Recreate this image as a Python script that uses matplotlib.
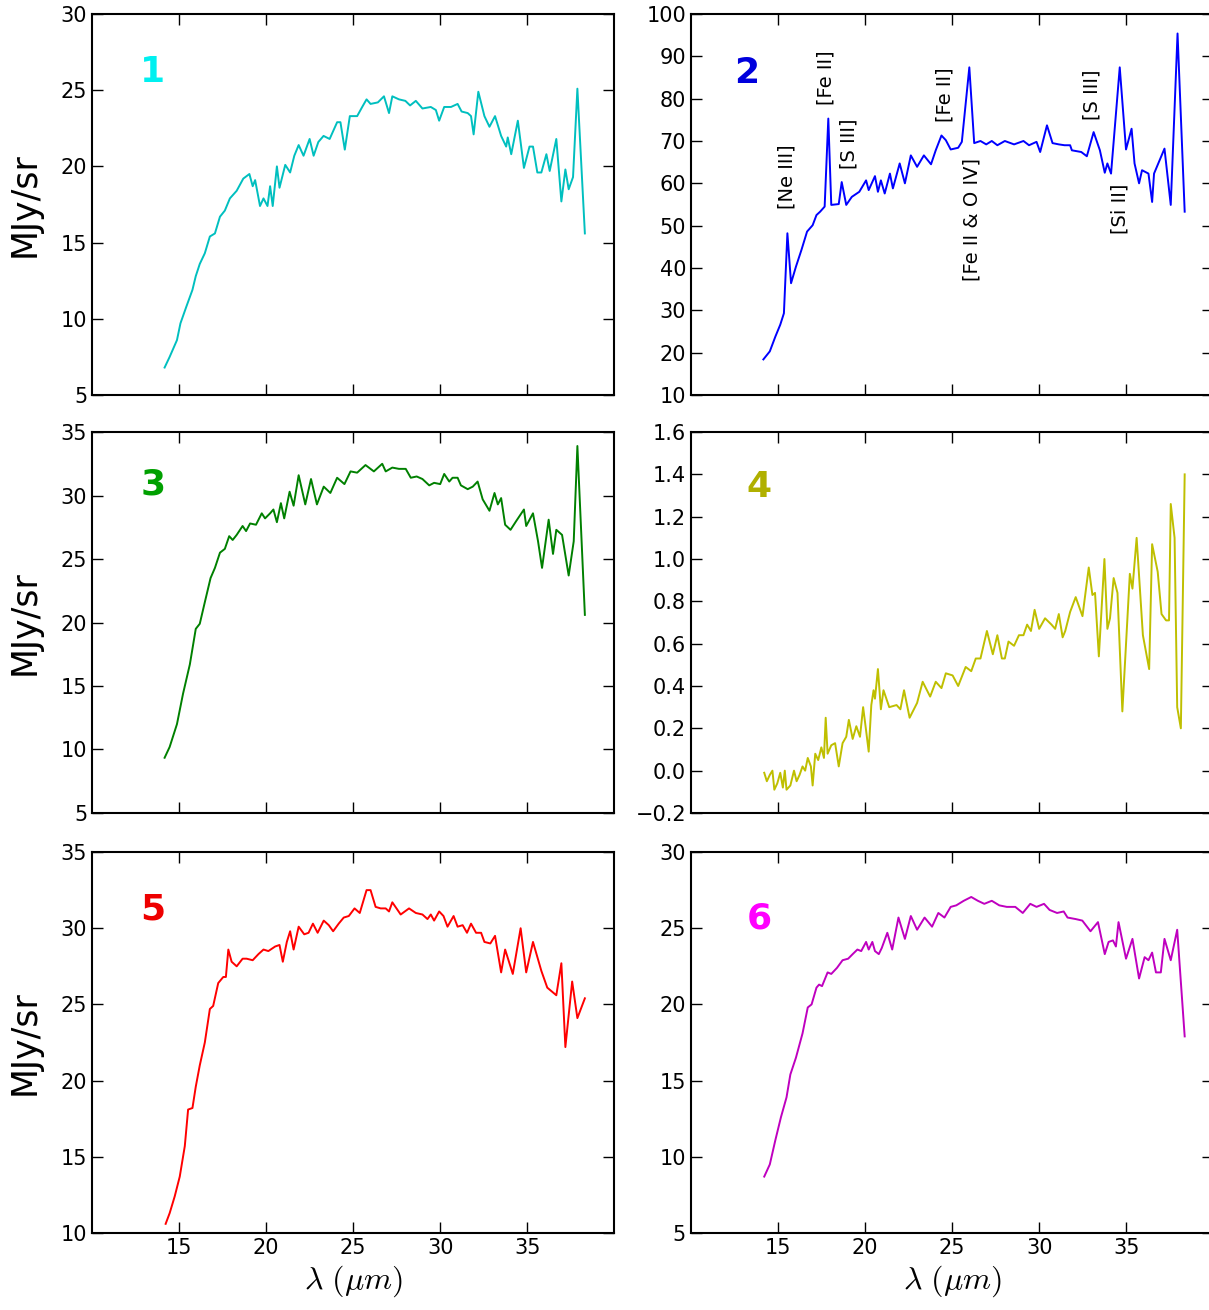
import matplotlib
matplotlib.use('Agg')
import matplotlib.pyplot as plt

plt.rcParams['mathtext.fontset'] = 'cm'

# ---- spectrum 1 (cyan)
wl1 = [14.17, 14.46, 14.88, 15.08, 15.42, 15.77, 15.96, 16.19, 16.48, 16.77, 17.06, 17.35, 17.63, 17.92,
       18.31, 18.69, 19.04, 19.23, 19.37, 19.65, 19.85, 20.08, 20.23, 20.38, 20.62, 20.77, 21.1, 21.38,
       21.62, 21.87, 22.15, 22.5, 22.73, 23.0, 23.3, 23.65, 24.08, 24.27, 24.52, 24.81, 25.23, 25.52,
       25.77, 26.0, 26.42, 26.77, 27.06, 27.25, 27.63, 28.0, 28.27, 28.6, 28.98, 29.46, 29.75, 29.94,
       30.23, 30.62, 31.0, 31.23, 31.58, 31.77, 31.92, 32.19, 32.54, 32.83, 33.15, 33.5, 33.79, 33.88,
       34.08, 34.46, 34.81, 35.13, 35.33, 35.58, 35.81, 36.1, 36.29, 36.67, 36.96, 37.19, 37.38, 37.63,
       37.88, 38.31]
f1 = [6.8, 7.5, 8.6, 9.7, 10.8, 11.9, 12.8, 13.6, 14.3, 15.4, 15.6, 16.7, 17.1, 17.9,
      18.4, 19.2, 19.5, 18.7, 19.1, 17.4, 17.9, 17.4, 18.7, 17.4, 20.0, 18.6, 20.1, 19.6,
      20.7, 21.4, 20.7, 21.8, 20.7, 21.6, 22.0, 21.8, 22.9, 22.9, 21.1, 23.3, 23.3, 23.9,
      24.4, 24.1, 24.2, 24.6, 23.5, 24.6, 24.4, 24.3, 24.0, 24.3, 23.8, 23.9, 23.7, 23.0,
      23.9, 23.9, 24.1, 23.6, 23.5, 23.3, 22.1, 24.9, 23.3, 22.6, 23.3, 22.0, 21.3, 21.9,
      20.8, 23.0, 19.9, 21.3, 21.3, 19.6, 19.6, 20.8, 19.7, 21.8, 17.7, 19.8, 18.5, 19.3,
      25.1, 15.6]

# ---- spectrum 2 (blue)
wl2 = [14.16, 14.53, 14.85, 15.13, 15.34, 15.54, 15.75, 16.03, 16.35, 16.67, 16.99, 17.21, 17.42, 17.68,
       17.89, 18.06, 18.49, 18.66, 18.92, 19.24, 19.67, 20.06, 20.21, 20.57, 20.74, 20.91, 21.13, 21.43,
       21.6, 21.99, 22.29, 22.63, 22.99, 23.38, 23.79, 24.06, 24.39, 24.64, 24.92, 25.35, 25.56, 25.99,
       26.27, 26.63, 26.96, 27.28, 27.6, 28.03, 28.56, 29.1, 29.42, 29.85, 30.06, 30.45, 30.77, 31.13,
       31.46, 31.78, 31.88, 32.42, 32.74, 33.13, 33.49, 33.77, 33.92, 34.13, 34.63, 34.99, 35.31, 35.48,
       35.74, 35.91, 36.28, 36.49, 36.6, 37.2, 37.56, 37.95, 38.36]
f2 = [18.4, 20.3, 23.8, 26.6, 29.3, 48.2, 36.4, 40.3, 44.3, 48.6, 50.1, 52.5, 53.3, 54.5,
      75.3, 54.9, 55.1, 60.3, 54.9, 56.8, 58.0, 60.7, 58.4, 61.7, 58.0, 60.7, 57.6, 62.3,
      58.8, 64.7, 60.0, 66.6, 63.9, 66.6, 64.5, 67.8, 71.3, 70.2, 68.0, 68.4, 69.8, 87.4,
      69.5, 70.0, 69.2, 70.0, 69.0, 70.0, 69.2, 70.0, 69.0, 69.8, 67.4, 73.7, 69.5, 69.2,
      69.0, 69.0, 67.8, 67.4, 66.4, 72.1, 67.8, 62.5, 64.7, 62.3, 87.4, 68.0, 72.9, 64.7,
      60.0, 63.1, 62.3, 55.6, 62.3, 68.2, 54.9, 95.4, 53.3]

# line identifications in spectrum 2: (label, wavelength, flux, vertical anchor)
line_names = ['[Ne III]', '[Fe II]', '[S III]', '[Fe II]', '[Fe II & O IV]', '[S III]', '[Si II]']
line_wl = [15.5, 17.75, 19.05, 24.6, 26.15, 33.05, 34.65]
line_y = [54.0, 78.5, 63.5, 74.5, 66.0, 75.0, 60.0]
line_va = ['bottom', 'bottom', 'bottom', 'bottom', 'top', 'bottom', 'top']

# ---- spectrum 3 (green)
wl3 = [14.17, 14.46, 14.88, 15.23, 15.62, 15.96, 16.19, 16.48, 16.81, 17.06, 17.35, 17.63, 17.88, 18.08,
       18.31, 18.65, 18.85, 19.08, 19.42, 19.75, 19.94, 20.23, 20.42, 20.62, 20.85, 21.04, 21.35, 21.58,
       21.87, 22.25, 22.58, 22.92, 23.31, 23.69, 24.08, 24.5, 24.85, 25.23, 25.71, 26.19, 26.67, 26.87,
       27.25, 27.63, 28.02, 28.31, 28.65, 28.98, 29.37, 29.65, 30.0, 30.23, 30.52, 30.71, 31.0, 31.19,
       31.58, 31.87, 32.15, 32.44, 32.83, 33.12, 33.31, 33.5, 33.73, 34.04, 34.37, 34.81, 34.94, 35.33,
       35.62, 35.85, 36.23, 36.48, 36.67, 37.0, 37.38, 37.67, 37.88, 38.31]
f3 = [9.35, 10.2, 12.0, 14.4, 16.7, 19.5, 19.9, 21.6, 23.5, 24.3, 25.5, 25.8, 26.8, 26.5,
      26.9, 27.6, 27.2, 27.8, 27.7, 28.6, 28.2, 28.6, 28.9, 27.9, 29.4, 28.2, 30.3, 29.2,
      31.6, 29.3, 31.3, 29.3, 30.7, 30.2, 31.4, 30.9, 31.9, 31.8, 32.4, 31.9, 32.5, 31.9,
      32.2, 32.1, 32.1, 31.4, 31.5, 31.3, 30.8, 31.0, 30.9, 31.7, 31.1, 31.4, 31.4, 30.8,
      30.5, 30.7, 31.1, 29.7, 28.8, 30.2, 29.3, 29.8, 27.7, 27.3, 28.0, 28.9, 27.6, 28.6,
      26.4, 24.3, 28.1, 25.4, 27.3, 26.9, 23.7, 26.4, 33.9, 20.6]

# ---- spectrum 4 (yellow)
wl4 = [14.21, 14.36, 14.53, 14.68, 14.79, 14.96, 15.13, 15.28, 15.39, 15.49, 15.71, 15.92, 16.07, 16.24,
       16.41, 16.56, 16.71, 16.89, 16.99, 17.14, 17.31, 17.49, 17.64, 17.74, 17.85, 18.06, 18.28, 18.49,
       18.71, 18.92, 19.07, 19.29, 19.5, 19.71, 19.89, 20.06, 20.21, 20.36, 20.49, 20.57, 20.74, 20.91,
       21.06, 21.39, 21.81, 22.03, 22.24, 22.56, 22.99, 23.31, 23.74, 24.06, 24.39, 24.64, 25.03, 25.35,
       25.78, 26.1, 26.36, 26.63, 27.0, 27.34, 27.6, 27.86, 28.03, 28.24, 28.56, 28.84, 29.1, 29.31,
       29.53, 29.74, 30.0, 30.34, 30.71, 30.92, 31.13, 31.35, 31.5, 31.78, 32.1, 32.49, 32.85, 33.06,
       33.21, 33.43, 33.75, 33.92, 34.07, 34.28, 34.5, 34.78, 35.21, 35.36, 35.6, 35.96, 36.32, 36.49,
       36.81, 37.03, 37.29, 37.46, 37.56, 37.78, 37.93, 38.14, 38.36]
f4 = [-0.01, -0.05, -0.02, 0.0, -0.09, -0.06, -0.01, -0.08, 0.0, -0.09, -0.07, 0.0, -0.05, -0.02,
      0.02, 0.0, 0.06, 0.02, -0.07, 0.08, 0.05, 0.11, 0.06, 0.25, 0.08, 0.12, 0.13, 0.02,
      0.13, 0.16, 0.24, 0.15, 0.21, 0.16, 0.30, 0.19, 0.09, 0.31, 0.38, 0.34, 0.48, 0.29,
      0.38, 0.30, 0.31, 0.29, 0.38, 0.25, 0.32, 0.42, 0.35, 0.42, 0.39, 0.46, 0.45, 0.40,
      0.49, 0.47, 0.53, 0.53, 0.66, 0.55, 0.64, 0.53, 0.53, 0.61, 0.59, 0.64, 0.64, 0.69,
      0.66, 0.76, 0.67, 0.72, 0.69, 0.67, 0.74, 0.63, 0.66, 0.75, 0.82, 0.73, 0.96, 0.83,
      0.84, 0.54, 1.00, 0.67, 0.72, 0.91, 0.84, 0.28, 0.93, 0.86, 1.10, 0.64, 0.48, 1.07,
      0.94, 0.74, 0.71, 0.71, 1.26, 1.10, 0.30, 0.20, 1.40]

# ---- spectrum 5 (red)
wl5 = [14.23, 14.46, 14.75, 15.04, 15.33, 15.52, 15.77, 15.96, 16.19, 16.48, 16.77, 16.96, 17.25, 17.54,
       17.69, 17.83, 18.02, 18.31, 18.65, 18.88, 19.23, 19.56, 19.85, 20.13, 20.52, 20.77, 20.96, 21.19,
       21.38, 21.58, 21.87, 22.19, 22.44, 22.69, 22.96, 23.31, 23.6, 23.85, 24.17, 24.46, 24.75, 25.08,
       25.38, 25.77, 26.0, 26.29, 26.58, 26.87, 27.06, 27.25, 27.73, 28.21, 28.6, 28.98, 29.27, 29.46,
       29.65, 29.94, 30.19, 30.42, 30.77, 31.0, 31.29, 31.54, 31.77, 32.06, 32.35, 32.54, 32.88, 33.15,
       33.5, 33.73, 34.17, 34.62, 34.94, 35.33, 35.81, 36.15, 36.67, 36.96, 37.19, 37.58, 37.88, 38.31]
f5 = [10.6, 11.3, 12.4, 13.7, 15.7, 18.1, 18.2, 19.6, 21.0, 22.5, 24.7, 24.9, 26.4, 26.8,
      26.8, 28.6, 27.8, 27.5, 28.0, 28.0, 27.9, 28.3, 28.6, 28.5, 28.8, 28.9, 27.8, 29.1,
      29.8, 28.6, 30.1, 29.6, 29.7, 30.3, 29.7, 30.5, 30.2, 29.8, 30.3, 30.7, 30.8, 31.3,
      31.0, 32.5, 32.5, 31.4, 31.3, 31.3, 31.1, 31.7, 30.9, 31.3, 31.0, 30.9, 30.6, 30.9,
      30.5, 31.1, 30.8, 30.1, 30.8, 30.1, 30.2, 29.7, 30.3, 29.7, 29.7, 29.1, 29.0, 29.5,
      27.1, 28.6, 27.0, 30.0, 27.1, 29.1, 27.2, 26.1, 25.6, 27.7, 22.2, 26.5, 24.1, 25.4]

# ---- spectrum 6 (magenta)
wl6 = [14.21, 14.53, 14.85, 15.17, 15.49, 15.71, 16.03, 16.41, 16.71, 16.93, 17.21, 17.36, 17.53, 17.85,
       18.06, 18.39, 18.71, 19.03, 19.29, 19.56, 19.78, 20.06, 20.21, 20.42, 20.57, 20.79, 20.96, 21.28,
       21.56, 21.92, 22.29, 22.63, 22.99, 23.42, 23.85, 24.21, 24.56, 24.92, 25.24, 25.67, 26.1, 26.48,
       26.85, 27.28, 27.71, 28.14, 28.63, 29.06, 29.49, 29.85, 30.28, 30.6, 31.03, 31.41, 31.63, 32.1,
       32.48, 32.95, 33.38, 33.77, 33.99, 34.24, 34.41, 34.56, 34.99, 35.36, 35.74, 36.06, 36.28, 36.49,
       36.71, 36.99, 37.2, 37.56, 37.93, 38.36]
f6 = [8.7, 9.5, 11.1, 12.6, 13.9, 15.4, 16.5, 18.1, 19.8, 20.0, 21.1, 21.3, 21.2, 22.1,
      22.0, 22.4, 22.9, 23.0, 23.3, 23.6, 23.5, 24.1, 23.6, 24.1, 23.5, 23.3, 23.7, 24.7,
      23.6, 25.7, 24.3, 25.8, 24.9, 25.7, 25.1, 26.0, 25.7, 26.4, 26.5, 26.8, 27.05, 26.8,
      26.6, 26.8, 26.5, 26.4, 26.4, 26.0, 26.6, 26.4, 26.6, 26.2, 26.0, 26.1, 25.7, 25.6,
      25.5, 24.8, 25.4, 23.3, 24.1, 24.2, 23.8, 25.4, 23.0, 24.3, 21.7, 23.1, 22.9, 23.4,
      22.1, 22.1, 24.3, 22.9, 24.9, 17.9]

waves = [wl1, wl2, wl3, wl4, wl5, wl6]
fluxes = [f1, f2, f3, f4, f5, f6]
line_colors = ['c', 'b', 'g', 'y', 'r', 'm']
num_colors = ['#00f0f0', '#0000dd', '#00a000', '#b0b000', '#ee0000', '#ff00ff']
ylims = [(5, 30), (10, 100), (5, 35), (-0.2, 1.6), (10, 35), (5, 30)]
ytick_sets = [[5, 10, 15, 20, 25, 30],
              list(range(10, 101, 10)),
              [5, 10, 15, 20, 25, 30, 35],
              [-0.2, 0.0, 0.2, 0.4, 0.6, 0.8, 1.0, 1.2, 1.4, 1.6],
              [10, 15, 20, 25, 30, 35],
              [5, 10, 15, 20, 25, 30]]
xticks = [15, 20, 25, 30, 35]
num_pos = [(0.115, 0.848), (0.107, 0.845), (0.117, 0.863), (0.13, 0.855), (0.117, 0.85), (0.13, 0.825)]

fig = plt.figure(figsize=(12.09, 13.10), dpi=100)

col_x = [0.0761, 0.5715]
row_y = [0.6985, 0.3794, 0.0588]
w, h = 0.432, 0.2908

for i in range(6):
    r, c = i // 2, i % 2
    ax = fig.add_axes([col_x[c], row_y[r], w, h])
    ax.plot(waves[i], fluxes[i], color=line_colors[i], lw=1.4)
    ax.set_xlim(10, 40)
    ax.set_ylim(*ylims[i])
    ax.set_xticks(xticks)
    ax.set_yticks(ytick_sets[i])
    if i == 3:
        ax.set_yticklabels(['%.1f' % v if v != -0.2 else '\u22120.2' for v in ytick_sets[i]])
    ax.tick_params(direction='in', top=True, right=True, length=8, width=1, labelsize=15)
    for s in ax.spines.values():
        s.set_linewidth(1.5)
    if r < 2:
        ax.set_xticklabels([])
    else:
        ax.set_xlabel(r'$\lambda\ (\mu m)$', fontsize=23)
    if c == 0:
        ax.set_ylabel('MJy/sr', fontsize=25)
        ax.yaxis.set_label_coords(-0.097, 0.5)
    ax.text(num_pos[i][0], num_pos[i][1], str(i + 1), transform=ax.transAxes,
            color=num_colors[i], fontsize=26, fontweight='bold', ha='center', va='center')
    if i == 1:
        for name, lx, ly, va in zip(line_names, line_wl, line_y, line_va):
            ax.text(lx, ly, name, rotation=90, ha='center', va=va, fontsize=14)

fig.savefig('out.png', dpi=100)
